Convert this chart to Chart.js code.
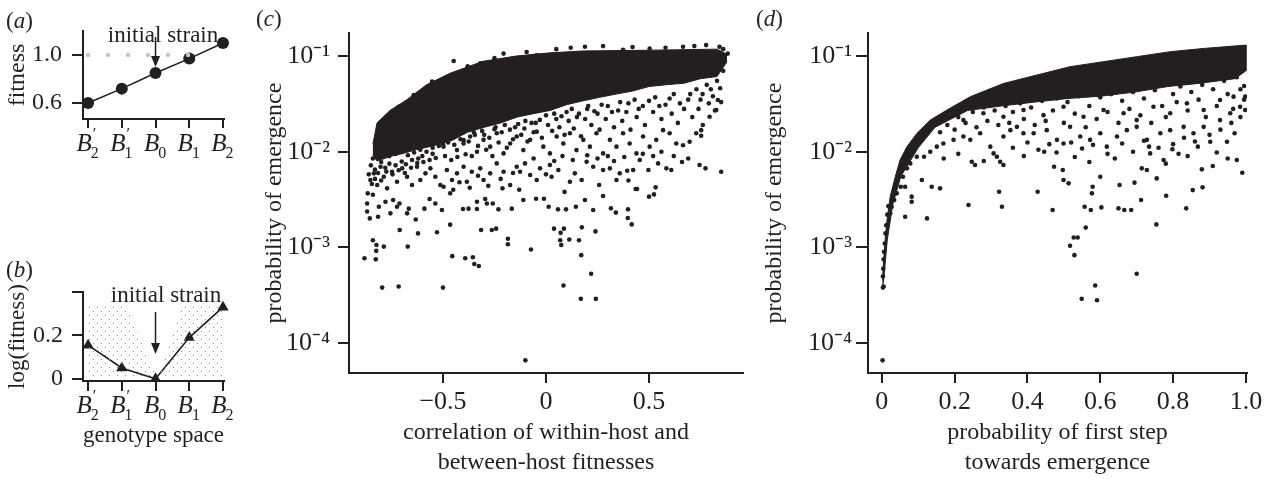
<!DOCTYPE html>
<html>
<head>
<meta charset="utf-8">
<script src="https://cdn.jsdelivr.net/npm/chart.js@4.4.1/dist/chart.umd.min.js"></script>
<style>
  body { margin: 0; background: #fff; }
  #wrap { position: relative; width: 1269px; height: 479px; overflow: hidden;
          font-family: "Liberation Serif", "Times New Roman", serif; color: #231f20; }
  #wrap canvas { position: absolute; }
  .lbl { position: absolute; font-size: 23px; line-height: 23px; white-space: nowrap; }
</style>
</head>
<body>
<div id="wrap">
  <canvas id="pa" width="250" height="170" style="left:0;top:0"></canvas>
  <canvas id="pb" width="250" height="200" style="left:0;top:250px"></canvas>
  <canvas id="pc" width="520" height="479" style="left:250px;top:0"></canvas>
  <canvas id="pd" width="514" height="479" style="left:755px;top:0"></canvas>

  <div class="lbl" style="left:6px;top:9px">(<i>a</i>)</div>
  <div class="lbl" style="left:6px;top:258px">(<i>b</i>)</div>
  <div class="lbl" style="left:256px;top:7px">(<i>c</i>)</div>
  <div class="lbl" style="left:756px;top:7px">(<i>d</i>)</div>
  <div class="lbl" style="left:163px;top:23px;transform:translateX(-50%)">initial strain</div>
  <div class="lbl" style="left:166px;top:283px;transform:translateX(-50%)">initial strain</div>
</div>

<script>
var ink = "#231f20";
Chart.defaults.font.family = '"Liberation Serif", "Times New Roman", serif';
Chart.defaults.color = ink;

// genotype axis of panels a and b
var genoSub = ["2", "1", "0", "1", "2"];
var genoPrime = [true, true, false, false, false];

// panel a: fitness of each genotype
var fitness = [0.6, 0.72, 0.85, 0.97, 1.1];
var fitnessRef = [[0, 1.0], [3.55, 1.0]];

// panel b: log fitness and stippled landscape
var logFitness = [0.155, 0.05, 0, 0.19, 0.33];
var stippleLeft = [[-0.05, 0.336], [1.16, 0.336], [2.04, 0]];
var stippleRight = [[2.04, 0], [2.79, 0.336], [4.0, 0.336]];

// panel c: dense core (upper edge then lower edge) and scattered runs
var cBand = [
  [-0.84, 0.012], [-0.82, 0.020], [-0.757, 0.027], [-0.675, 0.035], [-0.58, 0.050],
  [-0.466, 0.066], [-0.306, 0.088], [-0.145, 0.100], [0.02, 0.108], [0.18, 0.113],
  [0.5, 0.115], [0.83, 0.118], [0.875, 0.105],
  [0.875, 0.085], [0.83, 0.061], [0.75, 0.058], [0.67, 0.052], [0.58, 0.050], [0.50, 0.048],
  [0.42, 0.043], [0.34, 0.040], [0.26, 0.037], [0.18, 0.034], [0.10, 0.031], [0.02, 0.027],
  [-0.06, 0.025], [-0.14, 0.023], [-0.22, 0.020], [-0.30, 0.018], [-0.38, 0.016], [-0.46, 0.013],
  [-0.55, 0.0115], [-0.63, 0.0105], [-0.70, 0.0095], [-0.75, 0.009], [-0.82, 0.008], [-0.84, 0.0092]
];
var cDots = [
  [-0.881, 0.00077], [-0.840, 0.00119], [-0.823, 0.00106], [-0.824, 0.00092], [-0.826, 0.00075],
  [-0.795, 0.00038], [-0.787, 0.00102], [-0.715, 0.00039], [-0.671, 0.00102], [-0.710, 0.00152],
  [-0.621, 0.00140], [-0.529, 0.00144], [-0.465, 0.00173], [-0.500, 0.00038], [-0.455, 0.00081],
  [-0.392, 0.00077], [-0.355, 0.00079], [-0.348, 0.00067], [-0.326, 0.00064], [-0.315, 0.00152],
  [-0.263, 0.00152], [-0.242, 0.00157], [-0.185, 0.00123], [-0.185, 0.00108], [-0.073, 0.00095],
  [-0.100, 0.000066], [0.039, 0.00157], [0.071, 0.00142], [0.087, 0.00157], [0.085, 0.00040],
  [0.069, 0.00119], [0.074, 0.00106], [0.113, 0.00121], [0.160, 0.00119], [0.171, 0.00083],
  [0.219, 0.00053], [0.240, 0.00147], [0.174, 0.00162], [0.169, 0.00029], [0.242, 0.00029],
  [0.397, 0.00203], [0.416, 0.00174], [0.442, 0.00407], [0.500, 0.00339], [0.524, 0.00358],
  [0.532, 0.00424],
  [-0.868, 0.00237], [-0.868, 0.00288], [-0.865, 0.00367], [-0.855, 0.00201], [-0.840, 0.00355],
  [-0.815, 0.00209], [-0.811, 0.00266], [-0.779, 0.00300], [-0.755, 0.00227], [-0.742, 0.00313],
  [-0.723, 0.00266], [-0.711, 0.00288], [-0.674, 0.00227], [-0.666, 0.00254], [-0.632, 0.00196],
  [-0.590, 0.00254], [-0.565, 0.00320], [-0.537, 0.00288], [-0.505, 0.00246], [-0.497, 0.00431],
  [-0.465, 0.00367], [-0.403, 0.00252], [-0.376, 0.00254], [-0.335, 0.00252], [-0.335, 0.00300],
  [-0.295, 0.00320], [-0.287, 0.00288], [-0.258, 0.00288], [-0.231, 0.00250], [-0.211, 0.00414],
  [-0.166, 0.00254], [-0.110, 0.00313], [-0.048, 0.00323], [-0.010, 0.00323], [0.013, 0.00266],
  [0.058, 0.00250], [0.097, 0.00250], [0.145, 0.00266], [0.189, 0.00313], [0.229, 0.00246],
  [0.277, 0.00345], [0.315, 0.00256], [0.339, 0.00231], [0.398, 0.00250], [0.435, 0.00407],
  [-0.852, 0.00506], [-0.835, 0.00594], [-0.819, 0.00449], [-0.803, 0.00697], [-0.787, 0.00548],
  [-0.771, 0.00414], [-0.747, 0.00618], [-0.723, 0.00486], [-0.698, 0.00670], [-0.674, 0.00548],
  [-0.650, 0.00449], [-0.626, 0.00697], [-0.610, 0.00506], [-0.585, 0.00594], [-0.561, 0.00670],
  [-0.537, 0.00548], [-0.513, 0.00449], [-0.481, 0.00643], [-0.456, 0.00506], [-0.432, 0.00594],
  [-0.400, 0.00697], [-0.384, 0.00486], [-0.360, 0.00618], [-0.319, 0.00670], [-0.303, 0.00506],
  [-0.271, 0.00594], [-0.239, 0.00755], [-0.206, 0.00618], [-0.174, 0.00449], [-0.142, 0.00697],
  [-0.126, 0.00618], [-0.102, 0.00755], [-0.077, 0.00571], [-0.045, 0.00506], [-0.029, 0.00670],
  [0.019, 0.00726], [0.027, 0.00548], [0.060, 0.00643], [0.116, 0.00486], [0.140, 0.00594],
  [0.173, 0.00506], [0.197, 0.00786], [0.229, 0.00697], [0.258, 0.00449], [0.277, 0.00643],
  [0.310, 0.00670], [0.342, 0.00506], [0.358, 0.00594], [0.394, 0.00633], [0.423, 0.00643],
  [0.455, 0.00818], [0.497, 0.00643], [0.544, 0.00755], [0.584, 0.00670], [0.608, 0.00643],
  [0.745, 0.00726], [0.774, 0.00670], [0.850, 0.00618],
  [-0.529, 0.0133], [-0.497, 0.0113], [-0.465, 0.0156], [-0.432, 0.0104], [-0.400, 0.0122],
  [-0.368, 0.0144], [-0.335, 0.0100], [-0.303, 0.0133], [-0.271, 0.0113], [-0.239, 0.0156],
  [-0.206, 0.0096], [-0.174, 0.0122], [-0.142, 0.0144], [-0.110, 0.0104], [-0.077, 0.0133],
  [-0.045, 0.0162], [-0.013, 0.0113], [0.019, 0.0096], [0.052, 0.0144], [0.084, 0.0122],
  [0.116, 0.0156], [0.148, 0.0104], [0.181, 0.0133], [0.213, 0.0113], [0.245, 0.0156],
  [0.277, 0.0096], [0.310, 0.0133], [0.342, 0.0113], [0.374, 0.0156], [0.406, 0.0122],
  [0.439, 0.0096], [0.471, 0.0144], [0.503, 0.0113], [0.535, 0.0133], [0.568, 0.0168],
  [0.600, 0.0156], [0.632, 0.0122], [0.665, 0.0117], [0.697, 0.0127], [0.729, 0.0156],
  [0.753, 0.0147], [0.753, 0.0168], [0.761, 0.0190], [0.794, 0.0232], [0.826, 0.0273],
  [0.834, 0.0347],
  [-0.55, 0.0095], [-0.50, 0.0120], [-0.45, 0.0140], [-0.40, 0.0132], [-0.35, 0.0160],
  [-0.30, 0.0150], [-0.25, 0.0172], [-0.20, 0.0190], [-0.15, 0.0180], [-0.10, 0.0210],
  [-0.05, 0.0200], [0.00, 0.0240], [0.05, 0.0220], [0.10, 0.0260], [0.15, 0.0230],
  [0.20, 0.0280], [0.25, 0.0250], [0.30, 0.0300], [0.35, 0.0270], [0.40, 0.0320],
  [0.45, 0.0280], [0.50, 0.0340], [0.55, 0.0300], [0.60, 0.0360], [0.65, 0.0320],
  [0.70, 0.0400], [0.75, 0.0350], [0.78, 0.0500], [0.80, 0.0450], [0.83, 0.0550], [0.86, 0.0700],
  [-0.85, 0.0072], [-0.84, 0.0085], [-0.83, 0.0065], [-0.80, 0.0078], [-0.78, 0.0068],
  [-0.76, 0.0075], [-0.73, 0.0072], [-0.70, 0.0079], [-0.68, 0.0074], [-0.65, 0.0082],
  [-0.62, 0.0085], [-0.60, 0.0090],
  [-0.86, 0.0058], [-0.845, 0.0046], [-0.83, 0.0052], [-0.815, 0.0060], [-0.80, 0.0050],
  [-0.79, 0.0088], [-0.775, 0.0062], [-0.76, 0.0090], [-0.745, 0.0058], [-0.73, 0.0095],
  [-0.715, 0.0064], [-0.70, 0.0100], [-0.685, 0.0060], [-0.67, 0.0092], [-0.655, 0.0068],
  [-0.64, 0.0098], [-0.625, 0.0076], [-0.61, 0.0105], [-0.595, 0.0078], [-0.58, 0.0100],
  [-0.565, 0.0082], [-0.55, 0.0110], [-0.535, 0.0086], [-0.52, 0.0115],
  [-0.49, 0.0090], [-0.475, 0.0125], [-0.46, 0.0082], [-0.445, 0.0118], [-0.43, 0.0088],
  [-0.415, 0.0135], [-0.39, 0.0094], [-0.375, 0.0128], [-0.36, 0.0090], [-0.345, 0.0150],
  [-0.33, 0.0115], [-0.31, 0.0165], [-0.29, 0.0105], [-0.275, 0.0140], [-0.26, 0.0090],
  [-0.245, 0.0180], [-0.23, 0.0125], [-0.215, 0.0160], [-0.19, 0.0110], [-0.175, 0.0170],
  [-0.16, 0.0135], [-0.135, 0.0195], [-0.12, 0.0150], [-0.105, 0.0175], [-0.09, 0.0128],
  [-0.07, 0.0200], [-0.06, 0.0160], [-0.03, 0.0215], [-0.02, 0.0140],
  [0.01, 0.0190], [0.03, 0.0165], [0.04, 0.0250], [0.065, 0.0180], [0.075, 0.0235],
  [0.09, 0.0150], [0.11, 0.0210], [0.125, 0.0280], [0.135, 0.0175], [0.16, 0.0250],
  [0.17, 0.0145], [0.19, 0.0220], [0.205, 0.0300], [0.22, 0.0190], [0.235, 0.0265],
  [0.26, 0.0170], [0.27, 0.0310], [0.29, 0.0220], [0.32, 0.0260], [0.33, 0.0180],
  [0.36, 0.0330], [0.37, 0.0210], [0.39, 0.0260], [0.41, 0.0170], [0.43, 0.0350],
  [0.44, 0.0230], [0.47, 0.0300], [0.48, 0.0190], [0.52, 0.0260], [0.53, 0.0370],
  [0.56, 0.0220], [0.58, 0.0310], [0.61, 0.0250], [0.62, 0.0400], [0.64, 0.0200],
  [0.67, 0.0280], [0.69, 0.0350], [0.71, 0.0230], [0.73, 0.0450], [0.74, 0.0280],
  [0.76, 0.0400], [0.79, 0.0320], [0.81, 0.0380], [0.82, 0.0270], [0.845, 0.0460], [0.85, 0.0330],
  [-0.45, 0.0040], [-0.42, 0.0048], [-0.37, 0.0042], [-0.33, 0.0056], [-0.28, 0.0044],
  [-0.22, 0.0052], [-0.16, 0.0060], [-0.13, 0.0040], [-0.06, 0.0085], [0.00, 0.0058],
  [0.04, 0.0080], [0.08, 0.0090], [0.09, 0.0038], [0.13, 0.0082], [0.20, 0.0092],
  [0.25, 0.0085], [0.30, 0.0090], [0.33, 0.0080], [0.38, 0.0088], [0.40, 0.0050],
  [0.47, 0.0095], [0.52, 0.0090], [0.56, 0.0100], [0.62, 0.0090], [0.66, 0.0078], [0.69, 0.0085],
  [-0.448, 0.0887], [-0.319, 0.084], [-0.206, 0.106], [-0.094, 0.110], [-0.045, 0.102],
  [0.189, 0.125], [0.277, 0.127], [0.374, 0.116], [0.503, 0.120], [0.665, 0.125],
  [0.777, 0.130], [0.842, 0.125], [0.882, 0.106], [-0.465, 0.0609], [-0.553, 0.054],
  [-0.642, 0.039], [-0.715, 0.0295], [-0.771, 0.0223], [-0.811, 0.0183],
  [-0.38, 0.078], [-0.25, 0.095], [0.05, 0.118], [0.12, 0.122], [0.42, 0.124],
  [0.58, 0.122], [0.72, 0.127], [0.86, 0.118]
];

// panel d: dense core (upper edge then lower edge) and scattered runs
var dBand = [
  [0.002, 0.00045], [0.005, 0.00074], [0.009, 0.0012], [0.014, 0.0019], [0.023, 0.0034],
  [0.037, 0.0055], [0.050, 0.0082], [0.069, 0.0113], [0.096, 0.0155], [0.133, 0.0214],
  [0.179, 0.0273], [0.243, 0.0376], [0.334, 0.0517], [0.426, 0.0633], [0.517, 0.0774],
  [0.609, 0.0873], [0.700, 0.0984], [0.792, 0.111], [0.884, 0.120], [1.0, 0.130],
  [1.0, 0.070], [0.97, 0.058], [0.876, 0.052], [0.786, 0.048], [0.695, 0.042],
  [0.60, 0.038], [0.511, 0.036], [0.42, 0.033], [0.327, 0.030], [0.236, 0.027],
  [0.146, 0.018], [0.10, 0.011], [0.052, 0.0055], [0.03, 0.0028], [0.015, 0.0012],
  [0.006, 0.0005], [0.002, 0.00038]
];
var dDots = [
  [0.002, 0.000066], [0.003, 0.00038], [0.005, 0.00039], [0.064, 0.00431], [0.064, 0.00209],
  [0.082, 0.00300], [0.082, 0.00339], [0.124, 0.00201], [0.110, 0.00506], [0.137, 0.00431],
  [0.160, 0.00414], [0.238, 0.00277], [0.247, 0.00786], [0.256, 0.00726], [0.322, 0.00382],
  [0.330, 0.00266], [0.325, 0.00786], [0.334, 0.00726], [0.428, 0.00382], [0.446, 0.0100],
  [0.469, 0.00246], [0.473, 0.00697], [0.497, 0.00643], [0.499, 0.00506], [0.513, 0.00467],
  [0.517, 0.00104], [0.527, 0.00127], [0.538, 0.00127], [0.529, 0.00083], [0.549, 0.00029],
  [0.557, 0.00266], [0.560, 0.00161], [0.574, 0.00246], [0.577, 0.00367], [0.579, 0.00431],
  [0.586, 0.00040], [0.591, 0.00028], [0.600, 0.00548], [0.603, 0.00262], [0.650, 0.00256],
  [0.666, 0.00246], [0.685, 0.00246], [0.653, 0.00449], [0.694, 0.00475], [0.700, 0.00053],
  [0.712, 0.00313], [0.714, 0.00670], [0.728, 0.00643], [0.755, 0.00526], [0.754, 0.00174],
  [0.781, 0.00347], [0.836, 0.00256], [0.854, 0.00397], [0.879, 0.00654], [0.881, 0.00424],
  [0.909, 0.00708], [0.975, 0.00818], [0.990, 0.00603], [0.734, 0.0113], [0.737, 0.0096],
  [0.774, 0.00818], [0.798, 0.0106], [0.815, 0.0095], [0.868, 0.0113], [0.902, 0.0127],
  [0.948, 0.0127], [0.969, 0.0156], [0.998, 0.0273], [0.998, 0.0376], [0.995, 0.0486],
  [0.003, 0.00050], [0.004, 0.00060], [0.005, 0.00075], [0.006, 0.00090], [0.008, 0.0011],
  [0.010, 0.0014], [0.012, 0.0017], [0.015, 0.0022], [0.018, 0.0027],
  [0.023, 0.00227], [0.027, 0.00266], [0.034, 0.00313], [0.041, 0.00367], [0.052, 0.00431],
  [0.058, 0.00548], [0.069, 0.00670], [0.078, 0.00755], [0.096, 0.00887], [0.116, 0.00887],
  [0.133, 0.0100], [0.151, 0.0113], [0.169, 0.0122], [0.197, 0.0133], [0.224, 0.0144],
  [0.243, 0.0133], [0.270, 0.0156], [0.298, 0.0113], [0.307, 0.0096], [0.316, 0.00887],
  [0.334, 0.0144], [0.353, 0.0168], [0.371, 0.0182], [0.389, 0.0156], [0.417, 0.0156],
  [0.453, 0.0168], [0.481, 0.0133], [0.499, 0.0122], [0.517, 0.0182], [0.545, 0.0144],
  [0.572, 0.0133], [0.600, 0.0156], [0.618, 0.0113], [0.646, 0.0144], [0.673, 0.0168],
  [0.700, 0.0182], [0.728, 0.0133], [0.765, 0.0156], [0.792, 0.0168], [0.829, 0.0182],
  [0.856, 0.0156], [0.884, 0.0182], [0.929, 0.0214], [0.957, 0.0252], [0.984, 0.0295],
  [0.224, 0.0214], [0.279, 0.0252], [0.334, 0.0232], [0.389, 0.0273], [0.444, 0.0241],
  [0.499, 0.0295], [0.554, 0.0232], [0.609, 0.0273], [0.664, 0.0252], [0.700, 0.0214],
  [0.746, 0.0295], [0.792, 0.0252], [0.838, 0.0320], [0.884, 0.0273], [0.929, 0.0347],
  [0.966, 0.0376],
  [0.40, 0.0125], [0.43, 0.0105], [0.46, 0.0120], [0.48, 0.0098], [0.52, 0.0125],
  [0.55, 0.0108], [0.58, 0.0118], [0.62, 0.0095], [0.66, 0.0122], [0.69, 0.0100],
  [0.72, 0.0130], [0.76, 0.0110], [0.80, 0.0120], [0.83, 0.0140], [0.86, 0.0128],
  [0.90, 0.0150], [0.93, 0.0170], [0.96, 0.0200], [0.985, 0.0230],
  [0.16, 0.0160], [0.18, 0.0190], [0.20, 0.0170], [0.21, 0.0230], [0.23, 0.0200],
  [0.25, 0.0260], [0.26, 0.0180], [0.28, 0.0290], [0.29, 0.0210], [0.31, 0.0270],
  [0.32, 0.0190], [0.34, 0.0300], [0.35, 0.0200], [0.36, 0.0260], [0.38, 0.0320],
  [0.39, 0.0220], [0.41, 0.0290], [0.42, 0.0190], [0.44, 0.0340], [0.45, 0.0210],
  [0.47, 0.0270], [0.48, 0.0360], [0.50, 0.0200], [0.51, 0.0330], [0.53, 0.0250],
  [0.54, 0.0380], [0.56, 0.0180], [0.57, 0.0300], [0.59, 0.0220], [0.60, 0.0370],
  [0.62, 0.0260], [0.63, 0.0400], [0.65, 0.0200], [0.66, 0.0340], [0.68, 0.0280],
  [0.69, 0.0420], [0.71, 0.0240], [0.72, 0.0360], [0.74, 0.0200], [0.75, 0.0440],
  [0.77, 0.0300], [0.78, 0.0230], [0.80, 0.0400], [0.81, 0.0330], [0.82, 0.0480],
  [0.84, 0.0270], [0.85, 0.0420], [0.87, 0.0350], [0.88, 0.0500], [0.89, 0.0230],
  [0.91, 0.0450], [0.92, 0.0300], [0.94, 0.0550], [0.95, 0.0400], [0.965, 0.0280],
  [0.975, 0.0600], [0.985, 0.0450], [0.995, 0.0350], [0.99, 0.0700],
  [0.17, 0.0085], [0.21, 0.0095], [0.28, 0.0080], [0.36, 0.0110], [0.39, 0.0090],
  [0.53, 0.0088], [0.57, 0.0078], [0.64, 0.0085], [0.78, 0.0075], [0.84, 0.0090],
  [0.92, 0.0098], [0.95, 0.0085]
];

var logTicks = [1e-4, 1e-3, 1e-2, 1e-1];
var supers = { "-1": "\u207b\u00b9", "-2": "\u207b\u00b2", "-3": "\u207b\u00b3", "-4": "\u207b\u2074" };

function logLabel(v) {
  return "10" + supers[String(Math.round(Math.log10(v)))];
}

function signed(v) {
  if (v === 0) return "0";
  return v < 0 ? "\u2212" + Math.abs(v) : String(v);
}

function stipple() {
  var p = document.createElement("canvas");
  p.width = 8; p.height = 8;
  var g = p.getContext("2d");
  g.fillStyle = "#8a8a8a";
  g.fillRect(1, 1, 1, 1);
  g.fillRect(5, 5, 1, 1);
  return g.createPattern(p, "repeat");
}

// B labels with subscript and prime, put under each tick
var genoTicks = {
  id: "genoTicks",
  afterDraw: function (chart) {
    var s = chart.scales.x, ctx = chart.ctx;
    var base = s.top + 32;
    genoSub.forEach(function (sub, i) {
      var x = s.getPixelForValue(i);
      ctx.save();
      ctx.fillStyle = ink;
      ctx.textBaseline = "alphabetic";
      ctx.font = 'italic 25px "Liberation Serif"';
      var wB = ctx.measureText("B").width;
      ctx.font = '16px "Liberation Serif"';
      var wS = ctx.measureText(sub).width;
      var x0 = x - (wB + wS) / 2;
      ctx.font = 'italic 25px "Liberation Serif"';
      ctx.fillText("B", x0, base);
      ctx.font = '16px "Liberation Serif"';
      ctx.fillText(sub, x0 + wB - 1, base + 7);
      if (genoPrime[i]) ctx.fillText("\u2032", x0 + wB + 1, base - 12);
      ctx.restore();
    });
  }
};

var strainArrow = {
  id: "strainArrow",
  afterDatasetsDraw: function (chart, args, opts) {
    var ctx = chart.ctx;
    var px = chart.scales.x.getPixelForValue(opts.at);
    var y0 = chart.scales.y.getPixelForValue(opts.from);
    var y1 = chart.scales.y.getPixelForValue(opts.to);
    ctx.save();
    ctx.strokeStyle = ink;
    ctx.fillStyle = ink;
    ctx.lineWidth = 1.5;
    ctx.beginPath();
    ctx.moveTo(px, y0);
    ctx.lineTo(px, y1 - 8);
    ctx.stroke();
    ctx.beginPath();
    ctx.moveTo(px - 4.5, y1 - 11);
    ctx.lineTo(px + 4.5, y1 - 11);
    ctx.lineTo(px, y1);
    ctx.closePath();
    ctx.fill();
    ctx.restore();
  }
};

function axisLine(extra) {
  var base = {
    grid: { drawOnChartArea: false, drawTicks: true, tickLength: 11, color: ink, lineWidth: 2 },
    border: { color: ink, width: 2 },
    ticks: { color: ink, maxRotation: 0, autoSkip: false }
  };
  return Object.assign(base, extra);
}

// ---- panel a ----
new Chart(document.getElementById("pa"), {
  type: "scatter",
  data: {
    datasets: [
      { data: fitnessRef, showLine: true, borderColor: "#c4c4c4", borderWidth: 4.5,
        borderDash: [0, 20], borderCapStyle: "round", pointRadius: 0 },
      { data: fitness.map(function (v, i) { return [i, v]; }), showLine: true, clip: false,
        borderColor: ink, borderWidth: 1.6, backgroundColor: ink, pointRadius: 6, pointBorderWidth: 0 }
    ]
  },
  options: {
    responsive: false, animation: false,
    layout: { padding: { left: 0, right: 26, top: 31, bottom: 0 } },
    plugins: { legend: { display: false }, tooltip: { enabled: false },
      strainArrow: { at: 2, from: 1.15, to: 0.9 } },
    scales: {
      x: axisLine({
        type: "linear", min: -0.15, max: 4.03,
        afterBuildTicks: function (s) { s.ticks = [0, 1, 2, 3, 4].map(function (v) { return { value: v }; }); },
        ticks: { callback: function () { return ""; } },
        grid: { drawOnChartArea: false, tickLength: 9, color: ink, lineWidth: 2 },
        afterFit: function (s) { s.height = 51; }
      }),
      y: axisLine({
        min: 0.467, max: 1.2,
        afterBuildTicks: function (s) { s.ticks = [0.6, 0.8, 1.0, 1.2].map(function (v) { return { value: v }; }); },
        ticks: { color: ink, padding: 10, font: { size: 24 },
          callback: function (v) { return v === 0.6 ? "0.6" : (v === 1.0 ? "1.0" : ""); } },
        title: { display: true, text: "fitness", font: { size: 24 }, color: ink, padding: { top: 3, bottom: 0 } },
        afterFit: function (s) { s.width = 83; }
      })
    }
  },
  plugins: [genoTicks, strainArrow]
});

// ---- panel b ----
var dots = stipple();
new Chart(document.getElementById("pb"), {
  type: "scatter",
  data: {
    datasets: [
      { data: stippleLeft, showLine: true, fill: "origin", backgroundColor: dots, borderWidth: 0, pointRadius: 0 },
      { data: stippleRight, showLine: true, fill: "origin", backgroundColor: dots, borderWidth: 0, pointRadius: 0 },
      { data: logFitness.map(function (v, i) { return [i, v]; }), showLine: true, clip: false,
        borderColor: ink, borderWidth: 1.6, backgroundColor: ink, pointStyle: "triangle",
        pointRadius: 6.5, pointBorderWidth: 0 }
    ]
  },
  options: {
    responsive: false, animation: false,
    layout: { padding: { left: 0, right: 26, top: 42, bottom: 0 } },
    plugins: { legend: { display: false }, tooltip: { enabled: false },
      strainArrow: { at: 2, from: 0.308, to: 0.114 } },
    scales: {
      x: axisLine({
        type: "linear", min: -0.15, max: 4.03,
        afterBuildTicks: function (s) { s.ticks = [0, 1, 2, 3, 4].map(function (v) { return { value: v }; }); },
        ticks: { callback: function () { return ""; } },
        grid: { drawOnChartArea: false, tickLength: 10, color: ink, lineWidth: 2 },
        title: { display: true, text: "genotype space", font: { size: 23 }, color: ink, padding: { top: 0, bottom: 0 } },
        afterFit: function (s) { s.height = 69; }
      }),
      y: axisLine({
        min: -0.01, max: 0.4,
        afterBuildTicks: function (s) { s.ticks = [0, 0.2, 0.4].map(function (v) { return { value: v }; }); },
        ticks: { color: ink, padding: 9, font: { size: 24 },
          callback: function (v) { return v === 0 ? "0" : (v === 0.2 ? "0.2" : ""); } },
        title: { display: true, text: "log(fitness)", font: { size: 23 }, color: ink, padding: { top: 4, bottom: 0 } },
        afterFit: function (s) { s.width = 83; }
      })
    }
  },
  plugins: [genoTicks, strainArrow]
});

// ---- panels c and d ----
function emergenceChart(id, band, pts, xr, xticks, xtitle, yWidth, yTitlePad, padRight, yTickLen, yTickPad) {
  return new Chart(document.getElementById(id), {
    type: "scatter",
    data: {
      datasets: [
        { data: band, showLine: true, fill: "shape", backgroundColor: ink, borderColor: ink,
          borderWidth: 1, pointRadius: 0, tension: 0 },
        { data: pts, backgroundColor: ink, pointRadius: 2.3, pointBorderWidth: 0 }
      ]
    },
    options: {
      responsive: false, animation: false,
      layout: { padding: { left: 0, right: padRight, top: 33, bottom: 0 } },
      plugins: { legend: { display: false }, tooltip: { enabled: false } },
      scales: {
        x: axisLine({
          type: "linear", min: xr[0], max: xr[1],
          afterBuildTicks: function (s) { s.ticks = xticks.map(function (v) { return { value: v }; }); },
          ticks: { color: ink, padding: 4, font: { size: 26 }, maxRotation: 0,
            callback: function (v) { return xticks === dTicks ? (v === 0 ? "0" : v.toFixed(1)) : signed(v); } },
          grid: { drawOnChartArea: false, tickLength: 10, color: ink, lineWidth: 2 },
          title: { display: true, text: xtitle, font: { size: 24, lineHeight: 1.25 }, color: ink,
            padding: { top: 0, bottom: 1 } },
          afterFit: function (s) { s.height = 106; }
        }),
        y: axisLine({
          type: "logarithmic", min: 4.87e-5, max: 0.174,
          afterBuildTicks: function (s) { s.ticks = logTicks.map(function (v) { return { value: v }; }); },
          ticks: { color: ink, padding: yTickPad, font: { size: 26 }, callback: logLabel },
          grid: { drawOnChartArea: false, tickLength: yTickLen, color: ink, lineWidth: 2 },
          title: { display: true, text: "probability of emergence", font: { size: 24, lineHeight: 1.25 },
            color: ink, padding: { top: yTitlePad, bottom: 0 } },
          afterFit: function (s) { s.width = yWidth; }
        })
      }
    }
  });
}

var cTicks = [-0.5, 0, 0.5];
var dTicks = [0, 0.2, 0.4, 0.6, 0.8, 1.0];

emergenceChart("pc", cBand, cDots, [-0.956, 0.956], cTicks,
  ["correlation of within-host and", "between-host fitnesses"], 99, 10, 27, 11, 8);
emergenceChart("pd", dBand, dDots, [-0.038, 1.003], dTicks,
  ["probability of first step", "towards emergence"], 113, 5, 22, 12, 4);
</script>
</body>
</html>
